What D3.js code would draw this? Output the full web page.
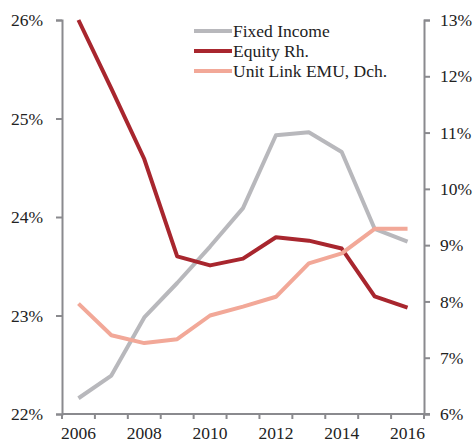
<!DOCTYPE html>
<html>
<head>
<meta charset="utf-8">
<script src="https://cdn.jsdelivr.net/npm/d3@7"></script>
<style>
  html, body { margin: 0; padding: 0; background: #fff; }
  svg text { font-family: "Liberation Serif", "Times New Roman", serif; fill: #222; }
</style>
</head>
<body>
<svg id="chart" width="474" height="443"></svg>
<script>
// Years on the category axis
const years = [2006, 2007, 2008, 2009, 2010, 2011, 2012, 2013, 2014, 2015, 2016];
// Portfolio weights, % (Fixed Income and Unit Link on the left axis, Equity on the right)
const fixedIncome = [22.16, 22.39, 22.98, 23.33, 23.70, 24.09, 24.83, 24.86, 24.66, 23.88, 23.75];
const equity      = [13.00, 11.78, 10.53, 8.80, 8.64, 8.76, 9.14, 9.08, 8.94, 8.09, 7.89];
const unitLink    = [23.12, 22.80, 22.72, 22.76, 23.00, 23.09, 23.19, 23.53, 23.63, 23.88, 23.88];
// Tick labels
const leftTicks = [22, 23, 24, 25, 26];
const rightTicks = [6, 7, 8, 9, 10, 11, 12, 13];
const yearLabels = [2006, 2008, 2010, 2012, 2014, 2016];

const seriesList = [
  { name: "Fixed Income", values: fixedIncome, axis: "left", color: "#b8b8bc" },
  { name: "Equity Rh.", values: equity, axis: "right", color: "#a8262e" },
  { name: "Unit Link EMU, Dch.", values: unitLink, axis: "left", color: "#f2a898" }
];

const svg = d3.select("#chart");
const plotLeft = 62, plotRight = 424, plotTop = 20, plotBottom = 414;
const fontSize = "17.5px";
const axisColor = "#8a8a8e";

const x = d3.scaleBand().domain(years).range([plotLeft, plotRight]);
const yL = d3.scaleLinear().domain([22, 26]).range([plotBottom, plotTop]);
const yR = d3.scaleLinear().domain([6, 13]).range([plotBottom, plotTop]);

// Left axis
const gL = svg.append("g").attr("transform", `translate(${plotLeft},0)`)
  .call(d3.axisLeft(yL).tickValues(leftTicks).tickFormat(d => d + "%").tickSizeOuter(0).tickSize(6).tickPadding(13));
// Right axis
const gR = svg.append("g").attr("transform", `translate(${plotRight},0)`)
  .call(d3.axisRight(yR).tickValues(rightTicks).tickFormat(d => d + "%").tickSizeOuter(0).tickSize(6).tickPadding(10));
// Bottom axis: ticks on band boundaries, labels every other year
const gB = svg.append("g").attr("transform", `translate(0,${plotBottom})`);
gB.append("line").attr("x1", plotLeft).attr("x2", plotRight + 6).attr("y1", 0).attr("y2", 0)
  .attr("stroke", axisColor).attr("stroke-width", 2);
const boundaries = years.map(d => x(d)).concat([x(years[years.length - 1]) + x.bandwidth()]);
gB.selectAll("line.tick").data(boundaries).join("line").attr("class", "tick")
  .attr("x1", d => d).attr("x2", d => d).attr("y1", 0).attr("y2", 5)
  .attr("stroke", axisColor).attr("stroke-width", 2);
gB.selectAll("text").data(yearLabels).join("text")
  .attr("x", d => x(d) + x.bandwidth() / 2).attr("y", 25)
  .attr("text-anchor", "middle").style("font-size", fontSize).text(d => d);

[gL, gR].forEach(g => {
  g.select(".domain").attr("stroke", axisColor).attr("stroke-width", 2);
  g.selectAll(".tick line").attr("stroke", axisColor).attr("stroke-width", 2);
  g.selectAll(".tick text").style("font-size", fontSize).attr("fill", "#222");
});

// Series lines
svg.append("clipPath").attr("id", "plot-clip").append("rect")
  .attr("x", plotLeft).attr("y", plotTop - 2).attr("width", plotRight - plotLeft).attr("height", plotBottom - plotTop + 2);
const plot = svg.append("g").attr("clip-path", "url(#plot-clip)");
seriesList.forEach(s => {
  const yScale = s.axis === "left" ? yL : yR;
  const line = d3.line()
    .x((d, i) => x(years[i]) + x.bandwidth() / 2)
    .y(d => yScale(d));
  plot.append("path").datum(s.values)
    .attr("d", line).attr("fill", "none")
    .attr("stroke", s.color).attr("stroke-width", 4)
    .attr("stroke-linejoin", "round");
});

// Legend
const legend = svg.append("g").attr("transform", "translate(194,31)");
seriesList.forEach((s, i) => {
  const g = legend.append("g").attr("transform", `translate(0,${i * 20})`);
  g.append("line").attr("x1", 0).attr("x2", 38).attr("y1", 0).attr("y2", 0)
    .attr("stroke", s.color).attr("stroke-width", 4);
  g.append("text").attr("x", 39).attr("y", 0).attr("dy", "0.35em")
    .style("font-size", fontSize).text(s.name);
});
</script>
</body>
</html>
